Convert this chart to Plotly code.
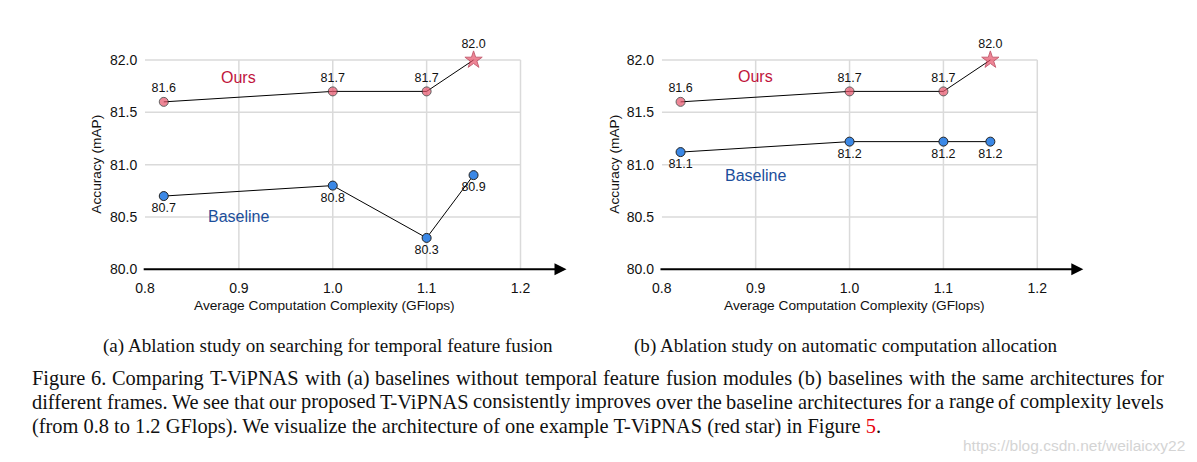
import plotly.graph_objects as go

# ---------------- data ----------------
x_vals = [0.82, 1.0, 1.1, 1.15]
ours_a = [81.6, 81.7, 81.7, 82.0]
base_a = [80.7, 80.8, 80.3, 80.9]
ours_b = [81.6, 81.7, 81.7, 82.0]
base_b = [81.12, 81.22, 81.22, 81.22]
x_ticks = [0.8, 0.9, 1.0, 1.1, 1.2]
x_tick_text = ["0.8", "0.9", "1.0", "1.1", "1.2"]
y_ticks = [80.0, 80.5, 81.0, 81.5, 82.0]
y_tick_text = ["80.0", "80.5", "81.0", "81.5", "82.0"]

W, H = 1197, 462
SANS = "Liberation Sans, Arial, sans-serif"
SERIF = "Liberation Serif, Times New Roman, serif"
OURS_FILL = "#E8536A"
BASE_FILL = "#3B88E6"
OURS_TXT = "#C0143C"
BASE_TXT = "#1B4E9B"
GRID = "#DADADA"

XMAX = 1.249
YMAX = 82.4

fig = go.Figure()

def add_panel(xr, yr, ours, base):
    fig.add_trace(go.Scatter(
        x=x_vals, y=ours, xaxis=xr, yaxis=yr, mode="lines+markers+text",
        line=dict(color="black", width=1),
        marker=dict(symbol=["circle", "circle", "circle", "star"],
                    size=[9, 9, 9, 13], color=OURS_FILL,
                    line=dict(color=["#222", "#222", "#222", "#B0203A"], width=1)),
        texttemplate="%{y:.1f}", textposition="top center",
        textfont=dict(family=SANS, size=12.5, color="#111"),
        showlegend=False, cliponaxis=False, hoverinfo="skip"))
    fig.add_trace(go.Scatter(
        x=x_vals, y=base, xaxis=xr, yaxis=yr, mode="lines+markers+text",
        line=dict(color="black", width=1),
        marker=dict(symbol="circle", size=9, color=BASE_FILL,
                    line=dict(color="#222", width=1)),
        texttemplate="%{y:.1f}", textposition="bottom center",
        textfont=dict(family=SANS, size=12.5, color="#111"),
        showlegend=False, cliponaxis=False, hoverinfo="skip"))

add_panel("x", "y", ours_a, base_a)
add_panel("x2", "y2", ours_b, base_b)

shapes = []
annotations = []
for xr, yr in (("x", "y"), ("x2", "y2")):
    for xv in x_ticks[1:]:
        shapes.append(dict(type="line", xref=xr, yref=yr, x0=xv, x1=xv,
                           y0=y_ticks[0], y1=y_ticks[-1],
                           line=dict(color=GRID, width=1.5), layer="below"))
    for yv in y_ticks[1:]:
        shapes.append(dict(type="line", xref=xr, yref=yr, x0=x_ticks[0], x1=x_ticks[-1],
                           y0=yv, y1=yv, line=dict(color=GRID, width=1.5), layer="below"))
    # axis arrows
    annotations.append(dict(x=XMAX, y=80.0, ax=0.797, ay=80.0, xref=xr, yref=yr,
                            axref=xr, ayref=yr, text="", showarrow=True,
                            arrowhead=2, arrowsize=1.2, arrowwidth=2, arrowcolor="black",
                            standoff=0, startstandoff=0))
    annotations.append(dict(x=0.798, y=YMAX, ax=0.798, ay=79.99, xref=xr, yref=yr,
                            axref=xr, ayref=yr, text="", showarrow=True,
                            arrowhead=2, arrowsize=1.2, arrowwidth=2, arrowcolor="black",
                            standoff=0, startstandoff=0))

def label(x, y, xref, yref, text, font, xanchor="center", yanchor="middle", **kw):
    d = dict(x=x, y=y, xref=xref, yref=yref, text=text, showarrow=False,
             xanchor=xanchor, yanchor=yanchor, font=font)
    d.update(kw)
    annotations.append(d)

# series names
label(0.9, 81.83, "x", "y", "Ours", dict(family=SANS, size=16, color=OURS_TXT))
label(0.9, 80.5, "x", "y", "Baseline", dict(family=SANS, size=16, color=BASE_TXT))
label(0.9, 81.84, "x2", "y2", "Ours", dict(family=SANS, size=16, color=OURS_TXT))
label(0.9, 80.9, "x2", "y2", "Baseline", dict(family=SANS, size=16, color=BASE_TXT))

# axis titles
for xc_title, xc_y, ry in ((324, 97, "y"), (854, 615, "y2")):
    label(xc_title / W, (H - 305) / H, "paper", "paper",
          "Average Computation Complexity (GFlops)", dict(family=SANS, size=13.7, color="#111"))
    label(xc_y / W, 81.0, "paper", ry, "Accuracy (mAP)",
          dict(family=SANS, size=13.7, color="#111"), textangle=-90)

# sub captions
label(327.5 / W, (H - 346) / H, "paper", "paper",
      "(a) Ablation study on searching for temporal feature fusion",
      dict(family=SERIF, size=19.1, color="#111"))
label(845.5 / W, (H - 346) / H, "paper", "paper",
      "(b) Ablation study on automatic computation allocation",
      dict(family=SERIF, size=19.1, color="#111"))

# figure caption (first two lines justified word by word)
cap_lines = [
    "Figure 6. Comparing T-ViPNAS with (a) baselines without temporal feature fusion modules (b) baselines with the same architectures for",
    "different frames. We see that our proposed T-ViPNAS consistently improves over the baseline architectures for a range of complexity levels",
    "(from 0.8 to 1.2 GFlops). We visualize the architecture of one example T-ViPNAS (red star) in Figure <span style='color:#E8000B'>5</span>.",
]
TW = {" ": 250, "(": 333, ")": 333, "-": 333, ".": 250, ",": 250,
      "A": 722, "C": 667, "F": 556, "G": 722, "N": 722, "P": 556, "S": 556, "T": 611,
      "V": 722, "W": 944,
      "a": 444, "b": 500, "c": 444, "d": 500, "e": 444, "f": 333, "g": 500, "h": 500,
      "i": 278, "j": 278, "k": 500, "l": 278, "m": 778, "n": 500, "o": 500, "p": 500,
      "q": 500, "r": 333, "s": 389, "t": 278, "u": 500, "v": 500, "w": 722, "x": 500,
      "y": 500, "z": 444}
KERN = {"Vi": -60, "-V": -40, "T-": -30, "NA": -35, "We": -80, "Fi": -20}
CAP_SIZE = 20.4
X0, X1 = 31.0, 1163.0

def tw(s):
    em = sum(TW.get(c, 500) for c in s)
    em += sum(KERN.get(s[i:i + 2], 0) for i in range(len(s) - 1))
    return em / 1000.0 * CAP_SIZE

cap_font = dict(family=SERIF, size=CAP_SIZE, color="#111")
for line, yc in zip(cap_lines[:2], (378, 401.5)):
    words = line.split(" ")
    gap = (X1 - X0 - sum(tw(w) for w in words)) / (len(words) - 1)
    xpos = X0
    for w in words:
        label(xpos / W, (H - yc) / H, "paper", "paper", w, cap_font, xanchor="left",
              borderpad=0)
        xpos += tw(w) + gap
label(X0 / W, (H - 426.5) / H, "paper", "paper", cap_lines[2], cap_font, xanchor="left",
      borderpad=0)

label(1187 / W, (H - 445) / H, "paper", "paper", "https://blog.csdn.net/weilaicxy22",
      dict(family=SANS, size=15.5, color="#D4D4D4"), xanchor="right")

axis_common = dict(showgrid=False, zeroline=False, showline=False, fixedrange=True,
                   automargin=False)
xdom_a = [145 / W, (145 + (XMAX - 0.8) * 938.75) / W]
xdom_b = [661.8 / W, (661.8 + (XMAX - 0.8) * 938.75) / W]
ydom = [(H - 269.3) / H, (H - (269.3 - (YMAX - 80) * 104.65)) / H]

def xaxis_cfg(dom, anchor):
    return dict(domain=dom, range=[0.8, XMAX], anchor=anchor, tickmode="array",
                tickvals=x_ticks, ticktext=x_tick_text, ticks="outside", ticklen=6,
                tickcolor="rgba(0,0,0,0)", tickfont=dict(family=SANS, size=14, color="#111"),
                **axis_common)

def yaxis_cfg(anchor):
    return dict(domain=ydom, range=[80.0, YMAX], anchor=anchor, tickmode="array",
                tickvals=y_ticks, ticktext=y_tick_text, ticks="outside", ticklen=4,
                tickcolor="rgba(0,0,0,0)", tickfont=dict(family=SANS, size=14, color="#111"),
                **axis_common)

fig.update_layout(
    width=W, height=H, margin=dict(l=0, r=0, t=0, b=0),
    paper_bgcolor="white", plot_bgcolor="white",
    xaxis=xaxis_cfg(xdom_a, "y"), yaxis=yaxis_cfg("x"),
    xaxis2=xaxis_cfg(xdom_b, "y2"), yaxis2=yaxis_cfg("x2"),
    shapes=shapes, annotations=annotations, showlegend=False,
)

fig.write_html("out.html")
